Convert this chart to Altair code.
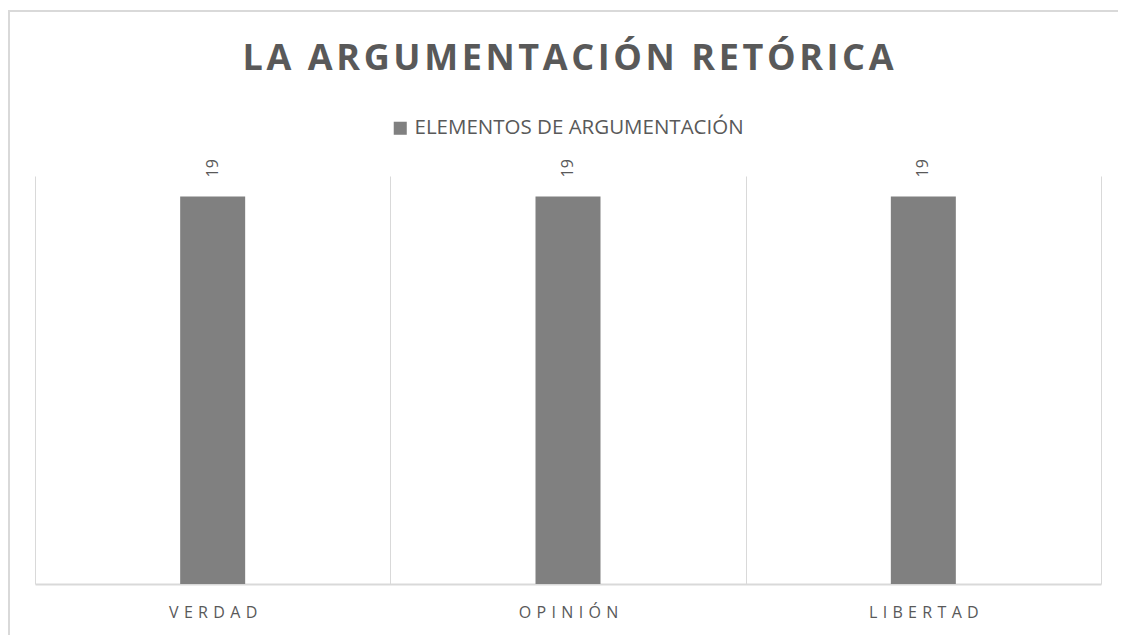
import altair as alt
import pandas as pd

categories = ["VERDAD", "OPINIÓN", "LIBERTAD"]
values = [19, 19, 19]
series_name = "ELEMENTOS DE ARGUMENTACIÓN"
title_text = "LA ARGUMENTACIÓN RETÓRICA"

df = pd.DataFrame({"cat": categories, "val": values, "serie": [series_name] * len(categories)})

TEXT = "#595959"
GRID = "#d9d9d9"
BAR = "#808080"
FONT = "Open Sans"

# letter-spaced display of the title (hair spaces between letters)
title_display = "\u200a".join(title_text)

base = alt.Chart(df)

border = alt.Chart(pd.DataFrame({"a": [0]})).mark_rect(
    fill="transparent", stroke=GRID, strokeWidth=2
).encode(
    x=alt.value(-26), x2=alt.value(1084), y=alt.value(-165), y2=alt.value(480)
)

bars = base.mark_bar(color=BAR, size=65).encode(
    x=alt.X("cat:N", sort=categories, title=None,
            scale=alt.Scale(paddingInner=0, paddingOuter=0),
            axis=alt.Axis(tickBand="extent", grid=True, gridColor=GRID, gridWidth=1,
                          ticks=False, domainColor=GRID, domainWidth=2,
                          labelAngle=0, labelFont=FONT, labelFontSize=16, labelColor=TEXT,
                          labelPadding=20,
                          labelExpr="join(split(datum.label, ''), '\u2004')")),
    y=alt.Y("val:Q", scale=alt.Scale(domain=[0, 20]), axis=None),
    color=alt.Color("serie:N", scale=alt.Scale(range=[BAR]),
                    legend=alt.Legend(title=None, orient="none", legendX=355, legendY=-58,
                                      symbolType="square", symbolSize=170, symbolStrokeWidth=0,
                                      labelLimit=0,
                                      labelFont=FONT, labelFontSize=20.5, labelColor=TEXT)),
)

labels = base.mark_text(angle=270, align="left", baseline="middle", dx=19,
                        font=FONT, fontSize=16, color=TEXT).encode(
    x=alt.X("cat:N", sort=categories),
    y=alt.Y("val:Q"),
    text=alt.Text("val:Q"),
)

chart = alt.layer(border, bars, labels).properties(
    width=1066, height=408,
    padding={"left": 27, "top": 168, "right": 17, "bottom": 60},
    autosize=alt.AutoSizeParams(type="none"),
    title=alt.TitleParams(title_display, font=FONT, fontSize=36, fontWeight="bold",
                          color=TEXT, anchor="middle", offset=0, dy=96,
                          baseline="alphabetic"),
).configure(background="white").configure_view(stroke=None)

chart.save("out.html", embed_options={"renderer": "svg", "actions": False})
